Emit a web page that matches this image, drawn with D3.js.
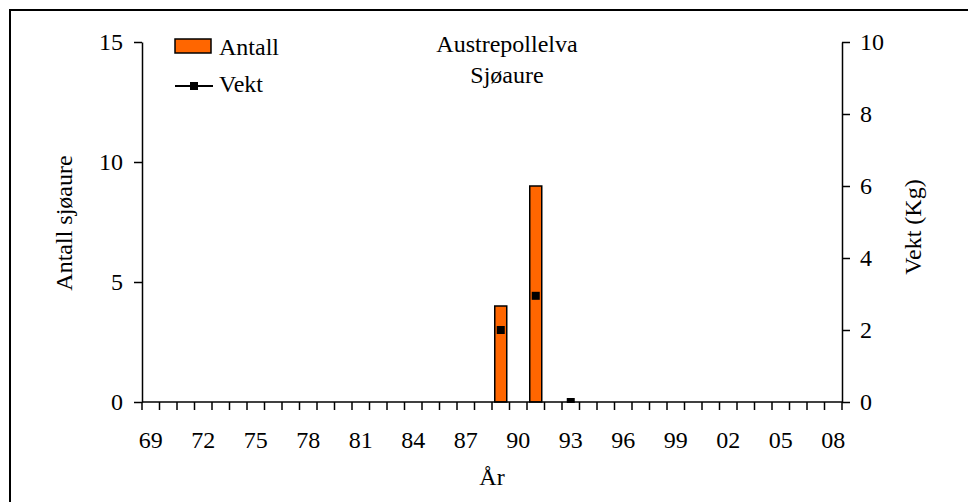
<!DOCTYPE html>
<html>
<head>
<meta charset="utf-8">
<script src="https://cdn.jsdelivr.net/npm/d3@7"></script>
<style>
  html, body { margin: 0; padding: 0; background: #fff; }
  svg { display: block; }
  svg text { font-family: "Liberation Serif", "Times New Roman", "DejaVu Serif", serif !important; fill: #000; }
</style>
</head>
<body>
<svg id="chart" width="968" height="502"></svg>
<script>
// Years 1969–2008, shown as two-digit labels
const years = d3.range(1969, 2009);
const yearLabels = years.map(y => String(y % 100).padStart(2, "0"));
// Number of sea trout (Antall) per year
const antallByYear = {1989: 4, 1991: 9};
const antall = years.map(y => antallByYear[y] ?? 0);
// Total weight in kg (Vekt); null = no value registered
const vektByYear = {1989: 2.0, 1991: 2.95, 1993: 0};
const vekt = years.map(y => vektByYear[y] ?? null);
const leftTicks = [0, 5, 10, 15];
const rightTicks = [0, 2, 4, 6, 8, 10];

const svg = d3.select("#chart");
const fs = 24;
const serif = "'Liberation Serif', 'Times New Roman', 'DejaVu Serif', serif";

// Outer frame (right/bottom edges fall outside the page)
svg.append("rect").attr("x", 10).attr("y", 10).attr("width", 980).attr("height", 520)
  .attr("fill", "none").attr("stroke", "#000").attr("stroke-width", 2);

const plotL = 142, plotR = 842, plotT = 42, plotB = 402;

// Clip series to the plot area
svg.append("defs").append("clipPath").attr("id", "plotClip")
  .append("rect").attr("x", plotL).attr("y", plotT - 2)
  .attr("width", plotR - plotL).attr("height", plotB - plotT + 3);

const x = d3.scaleBand().domain(yearLabels).range([plotL, plotR]).paddingInner(0).paddingOuter(0);
const yL = d3.scaleLinear().domain([0, 15]).range([plotB, plotT]);
const yR = d3.scaleLinear().domain([0, 10]).range([plotB, plotT]);

// Bars
const barW = 12;
svg.append("g").selectAll("rect")
  .data(antall.map((v, i) => ({k: yearLabels[i], v})).filter(d => d.v > 0))
  .join("rect")
  .attr("x", d => x(d.k) + x.bandwidth() / 2 - barW / 2)
  .attr("y", d => yL(d.v))
  .attr("width", barW)
  .attr("height", d => yL(0) - yL(d.v))
  .attr("fill", "#ff6600")
  .attr("stroke", "#000").attr("stroke-width", 1.5);

// Weight line (breaks at missing years) and markers
const pts = vekt.map((v, i) => ({k: yearLabels[i], v}));
const lineG = svg.append("g").attr("clip-path", "url(#plotClip)");
lineG.append("path")
  .datum(pts)
  .attr("fill", "none").attr("stroke", "#000").attr("stroke-width", 2)
  .attr("d", d3.line().defined(d => d.v !== null)
    .x(d => x(d.k) + x.bandwidth() / 2).y(d => yR(d.v)));
lineG.selectAll("rect")
  .data(pts.filter(d => d.v !== null))
  .join("rect")
  .attr("x", d => x(d.k) + x.bandwidth() / 2 - 4)
  .attr("y", d => yR(d.v) - 4)
  .attr("width", 8).attr("height", 8)
  .attr("fill", "#000");

// X axis: ticks at category boundaries, a label every third year
const xAxisG = svg.append("g");
xAxisG.append("line").attr("x1", plotL).attr("x2", plotR).attr("y1", plotB).attr("y2", plotB)
  .attr("stroke", "#000").attr("stroke-width", 1.5);
const boundaries = yearLabels.map(k => x(k)).concat([plotR]);
xAxisG.selectAll("line.t").data(boundaries).join("line").attr("class", "t")
  .attr("x1", d => d).attr("x2", d => d).attr("y1", plotB).attr("y2", plotB + 8)
  .attr("stroke", "#000").attr("stroke-width", 1.5);
xAxisG.selectAll("text").data(yearLabels.filter((k, i) => i % 3 === 0)).join("text")
  .attr("x", d => x(d) + x.bandwidth() / 2).attr("y", 448)
  .attr("text-anchor", "middle").attr("font-size", fs).text(d => d);

// Left axis
const gL = svg.append("g").attr("transform", `translate(${plotL},0)`)
  .call(d3.axisLeft(yL).tickValues(leftTicks).tickSize(8).tickPadding(11).tickSizeOuter(0));
gL.attr("font-family", serif).attr("font-size", fs);
gL.selectAll("path, line").attr("stroke", "#000").attr("stroke-width", 1.5);

// Right axis
const gR = svg.append("g").attr("transform", `translate(${plotR},0)`)
  .call(d3.axisRight(yR).tickValues(rightTicks).tickSize(8).tickPadding(10).tickSizeOuter(0));
gR.attr("font-family", serif).attr("font-size", fs);
gR.selectAll("path, line").attr("stroke", "#000").attr("stroke-width", 1.5);

// Axis titles
svg.append("text").attr("transform", "translate(72,223) rotate(-90)")
  .attr("text-anchor", "middle").attr("font-size", fs).text("Antall sjøaure");
svg.append("text").attr("transform", "translate(921,227) rotate(-90)")
  .attr("text-anchor", "middle").attr("font-size", fs).text("Vekt (Kg)");
svg.append("text").attr("x", 492).attr("y", 485)
  .attr("text-anchor", "middle").attr("font-size", fs).text("År");

// Title
svg.append("text").attr("x", 507).attr("y", 52).attr("text-anchor", "middle")
  .attr("font-size", fs).text("Austrepollelva");
svg.append("text").attr("x", 507).attr("y", 83).attr("text-anchor", "middle")
  .attr("font-size", fs).text("Sjøaure");

// Legend
const lg = svg.append("g");
lg.append("rect").attr("x", 175).attr("y", 39).attr("width", 36).attr("height", 14)
  .attr("fill", "#ff6600").attr("stroke", "#000").attr("stroke-width", 1.5);
lg.append("text").attr("x", 219).attr("y", 55).attr("font-size", fs).text("Antall");
lg.append("line").attr("x1", 175).attr("x2", 213).attr("y1", 86).attr("y2", 86)
  .attr("stroke", "#000").attr("stroke-width", 2);
lg.append("rect").attr("x", 190).attr("y", 82).attr("width", 8).attr("height", 8).attr("fill", "#000");
lg.append("text").attr("x", 219).attr("y", 92).attr("font-size", fs).text("Vekt");
</script>
</body>
</html>
